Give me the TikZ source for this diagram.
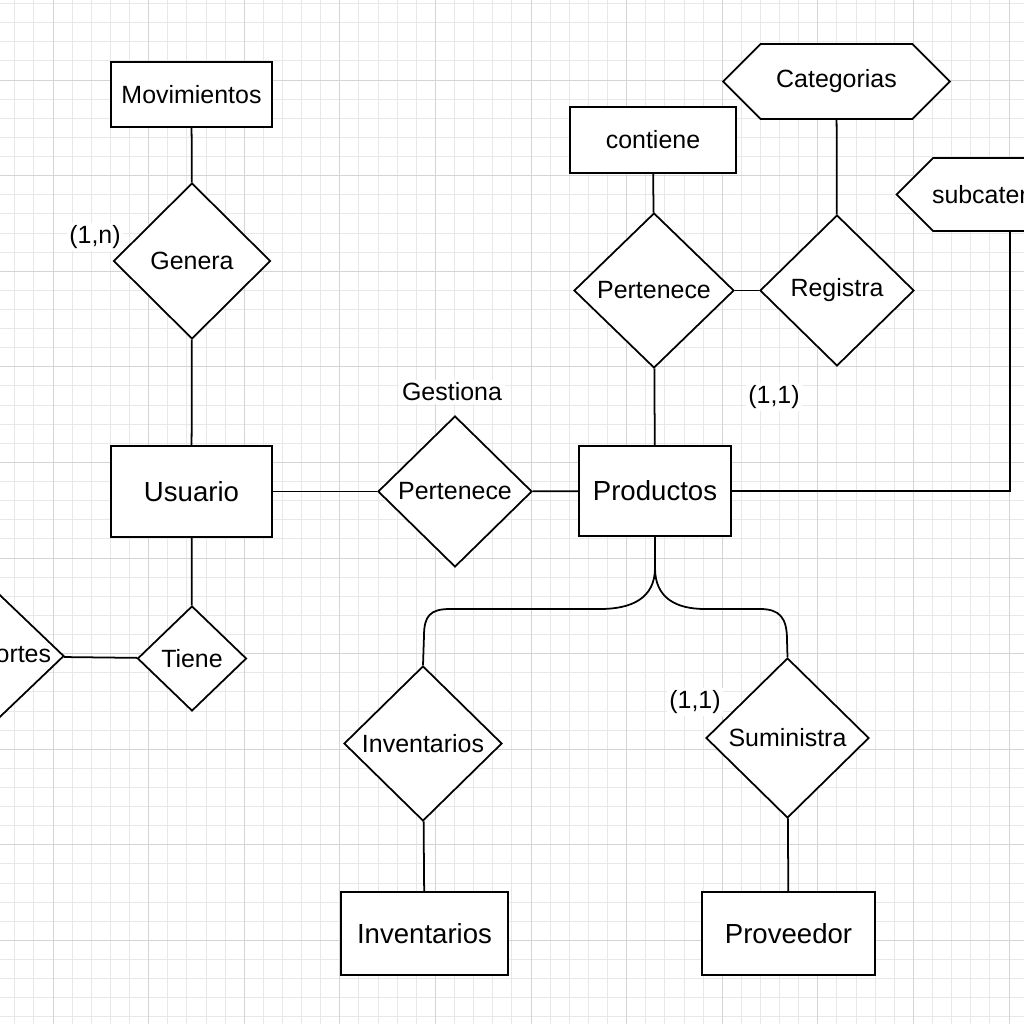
\documentclass[tikz,border=0pt]{standalone}
\usepackage{fontspec}
\setmainfont{Liberation Sans}
\usetikzlibrary{calc,shapes.geometric,shapes.symbols}

\tikzset{
	bigtxt/.style={font=\fontsize{15.7}{18}\selectfont},
	smalltxt/.style={font=\fontsize{14.2}{16}\selectfont},
	entity/.style={draw, fill=white, line width=1.2pt, rectangle, inner sep=0pt, bigtxt},
	attrbox/.style={entity, smalltxt},
	relation/.style={draw, fill=white, line width=1pt, diamond, inner sep=0pt, smalltxt},
	attrhex/.style={draw, fill=white, line width=1pt, signal, signal to=west and east, signal pointer angle=90, inner sep=0pt, smalltxt},
	card/.style={fill=white, inner sep=1.5pt, smalltxt},
	link/.style={line width=1pt},
	gridminor/.style={line width=0.5pt, black!9},
	gridmajor/.style={line width=0.5pt, black!17}
}

\begin{document}
\begin{tikzpicture}[x=0.02cm, y=-0.02cm]
			%%%%% START %%%%%
			\useasboundingbox (0,0) rectangle (1024,1024);
			\clip (0,0) rectangle (1024,1024);
			\fill[white] (0,0) rectangle (1024,1024);
			
			% squared paper
			\foreach \i in {0,...,53} {
				\draw[gridminor] ({14.76+19.12*\i},0) -- ++(0,1024);
				\draw[gridminor] (0,{3.5+19.12*\i}) -- ++(1024,0);
			}
			\foreach \i in {0,...,10} {
				\draw[gridmajor] ({53+95.6*\i},0) -- ++(0,1024);
				\draw[gridmajor] (0,{80+95.6*\i}) -- ++(1024,0);
			}
			
			% left column
			\node[attrbox, minimum width=3.22cm, minimum height=1.30cm] (mov) at (191.5, 94.5) {Movimientos};
			\node[relation, minimum width=3.14cm, minimum height=3.12cm] (genera) at (192, 261) {Genera};
			\node[entity, minimum width=3.22cm, minimum height=1.82cm] (usuario) at (191.5, 491.5) {Usuario};
			\node[relation, minimum width=2.18cm, minimum height=2.10cm] (tiene) at (192, 658.5) {Tiene};
			\node[relation, minimum width=3.64cm, minimum height=3.48cm] (reportes) at (-27, 656) {Reportes\hspace*{-1.1cm}};
			\node[card] (cardgen) at (95, 237) {(1,n)};
			
			\draw[link] (mov) -- (genera);
			\draw[link] (genera) -- (usuario);
			\draw[link] (usuario) -- (tiene);
			\draw[link] (tiene) -- (reportes);
			
			% middle
			\node[relation, minimum width=3.08cm, minimum height=3.02cm] (gestiona) at (455, 491.5) {Pertenece};
			\node[card] (gestlabel) at (452, 392) {Gestiona};
			\node[entity, minimum width=3.04cm, minimum height=1.80cm] (prod) at (655, 491) {Productos};
			
			\draw[link] (usuario) -- (gestiona);
			\draw[link] (gestiona) -- (prod);
			
			% top right
			\node[attrbox, minimum width=3.32cm, minimum height=1.32cm] (contiene) at (653, 140) {contiene};
			\node[relation, minimum width=3.20cm, minimum height=3.10cm] (pertenece) at (654, 290.5) {Pertenece};
			\node[relation, minimum width=3.08cm, minimum height=3.02cm] (registra) at (837, 290.5) {Registra};
			\node[attrhex, minimum width=4.54cm, minimum height=1.50cm] (cat) at (836.5, 81.5) {Categorias};
			\node[attrhex, minimum height=1.46cm, text width=3.6cm, align=left] (subcat) at (1023, 194.5) {\hspace*{-0.02cm}subcater};
			\node[card] (cardreg) at (774, 397) {(1,1)};
			
			\draw[link] (contiene) -- (pertenece);
			\draw[link] (pertenece) -- (prod);
			\draw[link] (pertenece) -- (registra);
			\draw[link] (cat) -- (registra);
			\draw[link] (subcat.south -| 1010,0) |- (prod.east);
			
			% bottom
			\node[relation, minimum width=3.16cm, minimum height=3.10cm] (invrel) at (423, 743.5) {Inventarios};
			\node[entity, minimum width=3.34cm, minimum height=1.66cm] (inv) at (424.5, 933.5) {Inventarios};
			\node[relation, minimum width=3.26cm, minimum height=3.20cm] (sumin) at (787.5, 738) {Suministra};
			\node[entity, minimum width=3.46cm, minimum height=1.66cm] (prov) at (788.5, 933.5) {Proveedor};
			\node[card] (cardsum) at (695, 702) {(1,1)};
			
			\draw[link] (prod.south) -- (655, 568) .. controls (655, 598) and (632, 609) .. (600, 609)
				-- (450, 609) .. controls (430, 609) and (424, 616) .. (424, 636) -- (invrel.north);
			\draw[link] (prod.south) -- (655, 568) .. controls (655, 598) and (676, 609) .. (705, 609)
				-- (760, 609) .. controls (780, 609) and (787, 618) .. (787, 640) -- (sumin.north);
			\draw[link] (invrel) -- (inv);
			\draw[link] (sumin) -- (prov);
			
			%%%%% END %%%%%
\end{tikzpicture}
\end{document}
